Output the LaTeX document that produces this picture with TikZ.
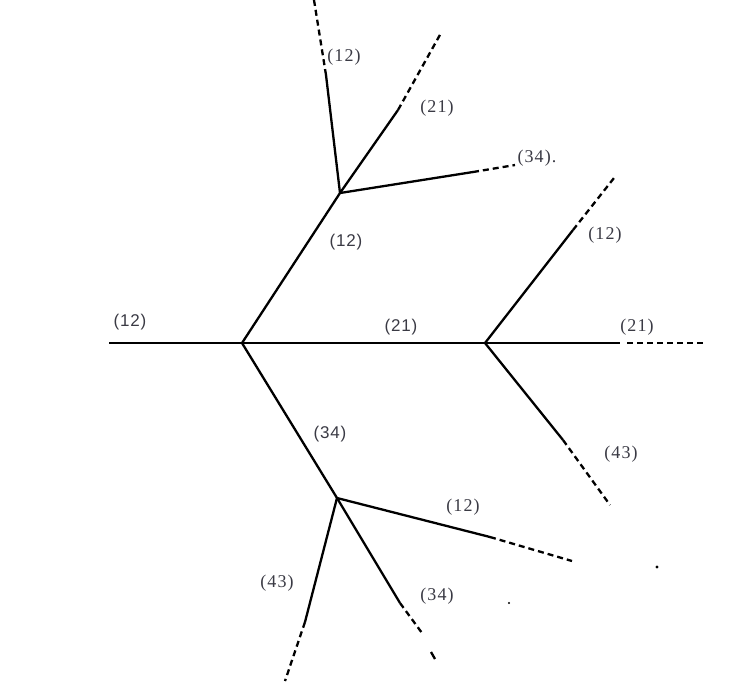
\documentclass[tikz,border=0pt]{standalone}
\usepackage{fontspec}
\setmainfont{Liberation Serif}
\newfontfamily\lsans[LetterSpace=5]{Liberation Sans}
\newfontfamily\lserif[LetterSpace=6]{Liberation Serif}
\definecolor{txt}{HTML}{3A3A44}
\tikzset{
  edge/.style={line width=2.3pt, black},
  dedge/.style={line width=2.3pt, black, dash pattern=on 6pt off 4pt},
  slab/.style={font=\lsans\fontsize{17}{17}\selectfont, text=txt, inner sep=0pt},
  rlab/.style={font=\lserif\fontsize{18}{18}\selectfont, text=txt, inner sep=0pt},
}
\begin{document}
\begin{tikzpicture}[x=1pt,y=-1pt]
\useasboundingbox (0,0) rectangle (744,681);
% main nodes
\coordinate (L0) at (109,343);
\coordinate (A) at (242,343);
\coordinate (B) at (485,343);
\coordinate (R1) at (620,343);
\coordinate (Rd1) at (627,343);
\coordinate (Rd2) at (705,343);
\coordinate (C) at (340,193);
\coordinate (D) at (337,498);
% ends
\coordinate (C1m) at (326,75);  \coordinate (C1e) at (314,0);
\coordinate (C2m) at (398,110); \coordinate (C2e) at (441,33);
\coordinate (C3m) at (473,172); \coordinate (C3e) at (515,165);
\coordinate (B1m) at (573,230); \coordinate (B1e) at (614,178);
\coordinate (B2m) at (563,440); \coordinate (B2e) at (610,505);
\coordinate (D1m) at (490,537); \coordinate (D1e) at (572,561);
\coordinate (D2m) at (400,603); \coordinate (D2e) at (422,633);
\coordinate (D2a) at (431,652); \coordinate (D2b) at (435,659);
\coordinate (D3m) at (305,622); \coordinate (D3e) at (285,681);
% main line
\draw[edge] (L0) -- (A) -- (B) -- (R1);
\draw[dedge] (Rd1) -- (Rd2);
\draw[edge] (A) -- (C);
\draw[edge] (A) -- (D);
% upper fork
\draw[edge] (C) -- (C1m); \draw[dedge] (C1m) -- (C1e);
\draw[edge] (C) -- (C2m); \draw[dedge] (C2m) -- (C2e);
\draw[edge] (C) -- (C3m); \draw[dedge] (C3m) -- (C3e);
% right fork
\draw[edge] (B) -- (B1m); \draw[dedge] (B1m) -- (B1e);
\draw[edge] (B) -- (B2m); \draw[dedge] (B2m) -- (B2e);
% lower fork
\draw[edge] (D) -- (D1m); \draw[dedge] (D1m) -- (D1e);
\draw[edge] (D) -- (D2m); \draw[dedge] (D2m) -- (D2e);
\draw[edge] (D2a) -- (D2b);
\draw[edge] (D) -- (D3m); \draw[dedge] (D3m) -- (D3e);
% stray dots
\fill (657,567) circle (1.6pt);
\fill (509,603) circle (1.2pt);
% labels
\node[slab] (l1) at (130,322) {(12)};
\node[slab] (l2) at (401,327) {(21)};
\node[rlab] (l3) at (637,327) {(21)};
\node[rlab] (l4) at (605,235) {(12)};
\node[rlab] (l5) at (621,454) {(43)};
\node[slab] (l6) at (346,242) {(12)};
\node[rlab] (l7) at (344,57) {(12)};
\node[rlab] (l8) at (437,108) {(21)};
\node[rlab] (l9) at (537,158) {(34).};
\node[slab] (l10) at (330,434) {(34)};
\node[rlab] (l11) at (463,507) {(12)};
\node[rlab] (l12) at (437,596) {(34)};
\node[rlab] (l13) at (277,583) {(43)};
\end{tikzpicture}
\end{document}
